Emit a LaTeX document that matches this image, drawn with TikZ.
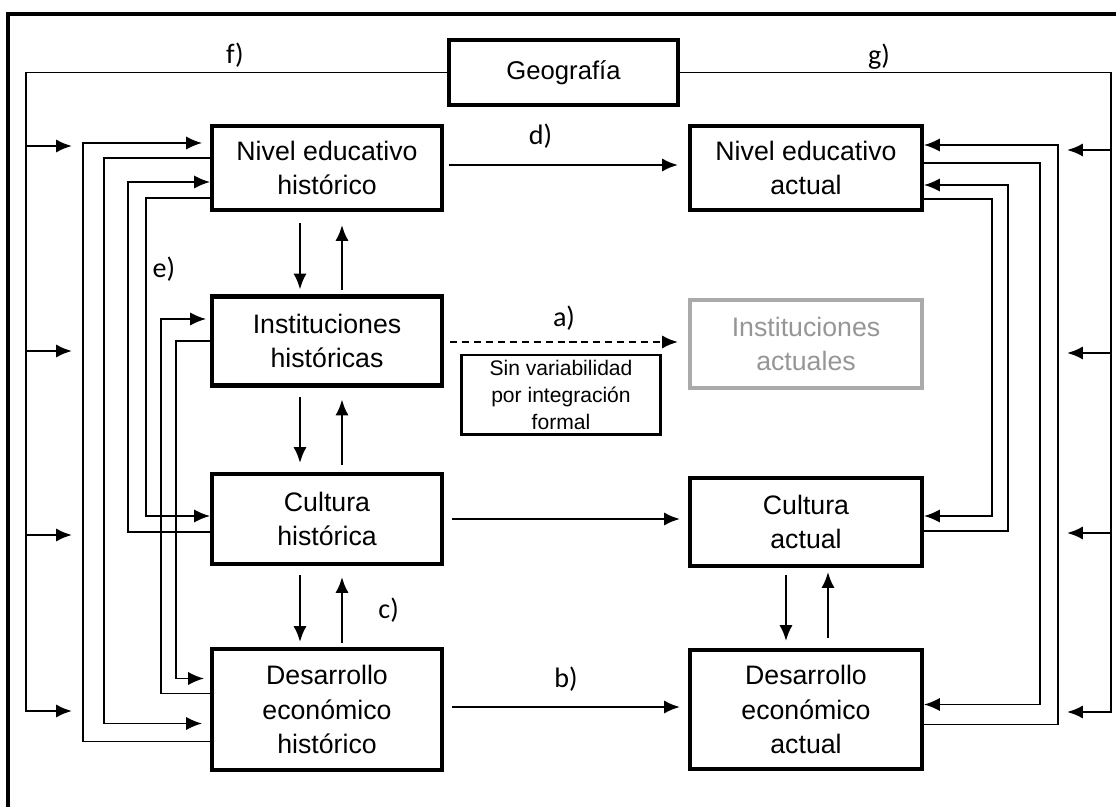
\documentclass[tikz,border=0pt]{standalone}
\usepackage{fontspec}
\setmainfont{Liberation Sans}
\newfontfamily\etiq{Carlito}
\usepackage{tikz}
\usetikzlibrary{arrows.meta}
\usetikzlibrary{calc}
\usetikzlibrary{positioning}

\definecolor{grisrand}{RGB}{170,170,170}
\definecolor{gristext}{RGB}{150,150,150}

\tikzset{
  >={Latex[length=9pt,width=7.5pt]},
  caja/.style={draw, line width=2.3pt, align=center, inner sep=0pt,
    font=\fontsize{15.2}{19.8}\selectfont},
  izq/.style={caja, minimum width=4.6cm},
  der/.style={caja, minimum width=4.64cm},
  nota/.style={draw, line width=1.7pt, align=center, inner sep=0pt,
    minimum width=4cm, minimum height=1.6cm, font=\fontsize{12}{15.3}\selectfont},
  letra/.style={font=\etiq\fontsize{16}{18}\selectfont, inner sep=0pt},
  con/.style={line width=1pt},
  flecha/.style={->, line width=1.4pt}
}

\begin{document}
\begin{tikzpicture}[x=0.02cm,y=-0.02cm]
     \useasboundingbox (0,0) rectangle (1116,807);
     % Rahmen
     \draw[line width=2.8pt] (8,830) -- (8,14) -- (1140,14);

     % Cajas
     \node[izq, minimum height=1.68cm] (NEH) at (327,168) {Nivel educativo\\histórico};
     \node[izq, minimum height=1.78cm] (IH) at (327,341) {Instituciones\\históricas};
     \node[izq, minimum height=1.8cm] (CH) at (327,519) {Cultura\\histórica};
     \node[izq, minimum height=2.42cm] (DEH) at (327,709.5) {Desarrollo\\económico\\histórico};

     \node[der, minimum height=1.68cm] (NEA) at (806,168) {Nivel educativo\\actual};
     \node[der, minimum height=1.76cm, draw=grisrand, text=gristext] (IA) at (806,344) {Instituciones\\actuales};
     \node[der, minimum height=1.76cm] (CA) at (806,522) {Cultura\\actual};
     \node[der, minimum height=2.38cm] (DEA) at (806,709.5) {Desarrollo\\económico\\actual};

     \node[caja, minimum width=4.58cm, minimum height=1.3cm, font=\fontsize{14.6}{18}\selectfont] (GEO) at (563.5,72.5) {Geografía};
     \node[nota] (SIN) at (561,395) {Sin variabilidad\\por integración\\formal};

     % Geografia
     \coordinate (fl) at (26,712);
     \coordinate (gr) at (1111,713);
     \draw[con] (GEO.west) -| (fl);
     \draw[con] (GEO.east) -| (gr);
     \foreach \y in {146,351,535,711}
       \draw[flecha] (26,\y) -- ++(46,0);
     \foreach \y in {150,353,533,712}
       \draw[flecha] (1111,\y) -- ++(-44,0);
     \node[letra] (f) at (235,55) {f)};
     \node[letra] (g) at (879,57) {g)};

     % horizontal
     \draw[flecha] ($(NEH.east)+(5,-3)$) -- ($(NEA.west)+(-10,-3)$)
       node[letra, pos=0.4, above=9pt] (d) {d)};
     \draw[flecha, dash pattern=on 4pt off 2.8pt] ($(IH.east)+(6,1)$) -- ($(IA.west)+(-10,-2)$)
       node[letra, midway, above=6pt] (a) {a)};
     \draw[flecha] ($(CH.east)+(8,0)$) -- ($(CA.west)+(-8,-3)$);
     \draw[flecha] ($(DEH.east)+(8,-2.5)$) -- ($(DEA.west)+(-8,-2.5)$)
       node[letra, midway, above=8pt] (b) {b)};

     % vertikal
     \draw[flecha] ($(NEH.south)+(-27,11)$) -- ($(IH.north)+(-27,-5)$);
     \draw[flecha] ($(IH.north)+(15,-4)$) -- ($(NEH.south)+(15,13)$);
     \draw[flecha] ($(IH.south)+(-27,9)$) -- ($(CH.north)+(-27,-9)$);
     \draw[flecha] ($(CH.north)+(15,-7)$) -- ($(IH.south)+(15,12)$);
     \draw[flecha] ($(CH.south)+(-27,9)$) -- ($(DEH.north)+(-27,-5)$);
     \draw[flecha] ($(DEH.north)+(15,-4)$) -- ($(CH.south)+(15,11)$)
       node[letra, pos=0.5, right=20pt] (c) {c)};
     \draw[flecha] ($(CA.south)+(-20,7)$) -- ($(DEA.north)+(-20,-7)$);
     \draw[flecha] ($(DEA.north)+(22,-10)$) -- ($(CA.south)+(22,4)$);

     % links
     \draw[con,->] ($(DEH.west)+(0,32)$) -- ++(-127,0) |- ($(NEH.west)+(-8,-25)$);
     \draw[con,->] ($(NEH.west)+(0,-10)$) -- ++(-106,0) |- ($(DEH.west)+(-8,14)$);
     \draw[con,->] ($(CH.west)+(0,13)$) -- ++(-82,0) |- ($(NEH.west)+(0,14)$);
     \draw[con,->] ($(NEH.west)+(0,30)$) -- ++(-64,0) |- ($(CH.west)+(0,-3)$);
     \draw[con,->] ($(DEH.west)+(0,-16)$) -- ++(-49,0) |- ($(IH.west)+(-4,-22)$);
     \draw[con,->] (IH.west) -- ++(-34,0) |- ($(DEH.west)+(-6,-31)$);
     \node[letra] (e) at (164,269) {e)};

     % rechts
     \draw[con,->] ($(DEA.east)+(0,15)$) -- ++(134,0) |- ($(NEA.east)+(0,-23)$);
     \draw[con,->] ($(NEA.east)+(0,-5)$) -- ++(116,0) |- ($(DEA.east)+(0,-5)$);
     \draw[con,->] ($(CA.east)+(0,9)$) -- ++(84,0) |- ($(NEA.east)+(0,17)$);
     \draw[con,->] ($(NEA.east)+(0,31)$) -- ++(68,0) |- ($(CA.east)+(0,-6)$);

   \end{tikzpicture}
\end{document}
